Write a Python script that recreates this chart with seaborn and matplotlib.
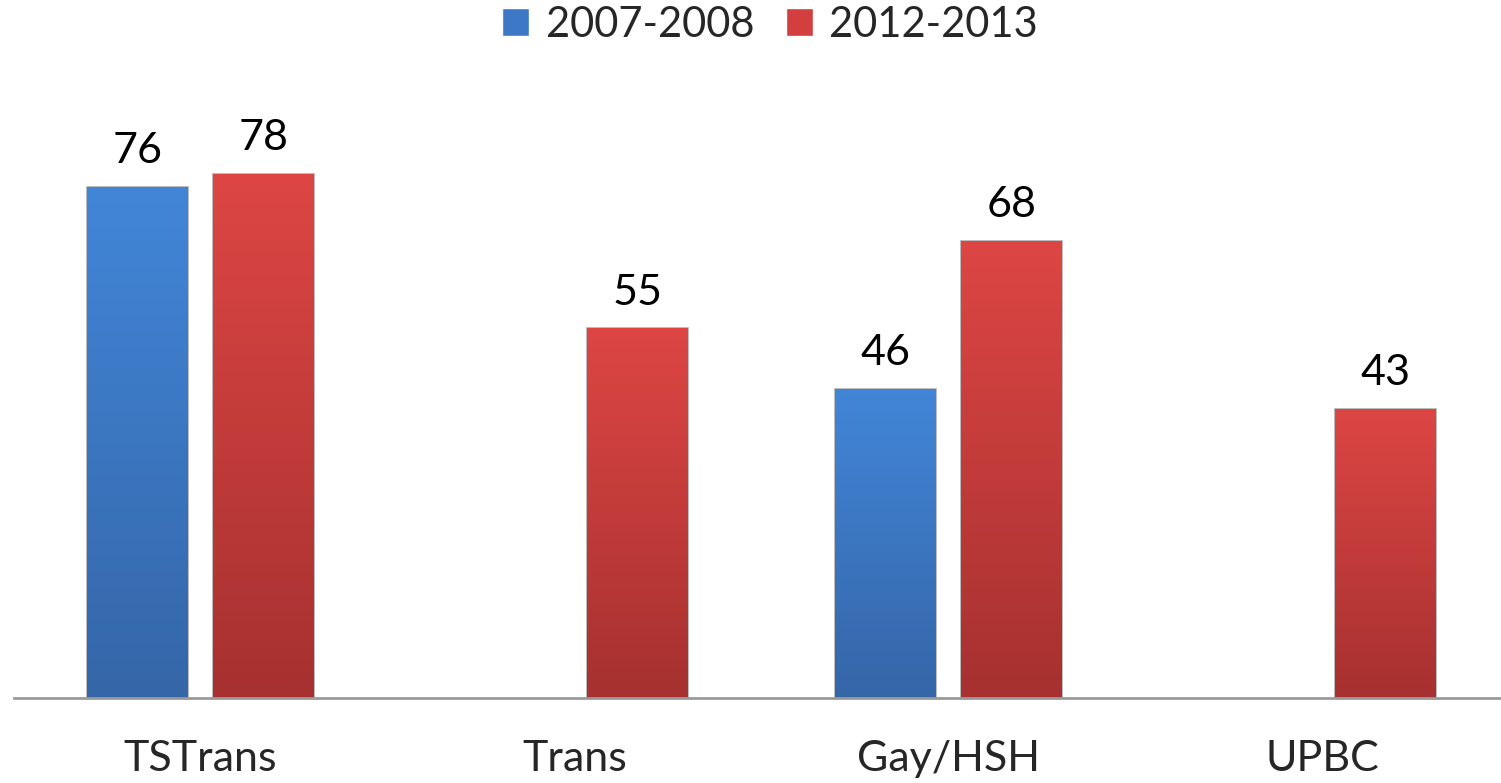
import pandas as pd
import numpy as np
import seaborn as sns
import matplotlib.pyplot as plt
from matplotlib.colors import LinearSegmentedColormap

categories = ['TSTrans', 'Trans', 'Gay/HSH', 'UPBC']
periods = ['2007-2008', '2012-2013']
vals_2007 = [76, np.nan, 46, np.nan]
vals_2012 = [78, 55, 68, 43]

df = pd.DataFrame({
    'cat': categories * 2,
    'period': [periods[0]] * 4 + [periods[1]] * 4,
    'value': vals_2007 + vals_2012,
})

sns.set_style('white')
plt.rcParams['font.family'] = ['Lato', 'DejaVu Sans']

fig = plt.figure(figsize=(15.01, 7.83), dpi=100)
ax = fig.add_axes([13.5 / 1501, 1 - 698 / 783, 1496 / 1501, 605 / 783])

pal = {'2007-2008': '#3c78c6', '2012-2013': '#d33f3e'}
sns.barplot(data=df, x='cat', y='value', hue='period', order=categories,
            hue_order=periods, palette=pal, width=0.672, gap=0.2,
            saturation=1, ax=ax, legend=True)

# gradient fill on each bar
grads = {'2007-2008': ['#4286d8', '#3566a8'], '2012-2013': ['#dd4644', '#a63130']}
for cont, per in zip(ax.containers, periods):
    cmap = LinearSegmentedColormap.from_list(per, grads[per][::-1])
    for bar in cont:
        h = bar.get_height()
        if not np.isfinite(h) or h == 0:
            continue
        x0, w = bar.get_x(), bar.get_width()
        bar.set_edgecolor('#00000050')
        bar.set_linewidth(1.2)
        grad = np.linspace(0, 1, 256).reshape(-1, 1)
        im = ax.imshow(grad, extent=[x0, x0 + w, 0, h], origin='lower',
                       cmap=cmap, aspect='auto', zorder=bar.get_zorder() + 0.1,
                       interpolation='bilinear')
        im.set_clip_path(bar)
    ax.bar_label(cont, labels=[f'{v:.0f}' if np.isfinite(v) else '' for v in cont.datavalues],
                 padding=12, fontsize=31, color='black')

ax.set_ylim(0, 90)
ax.set_xlim(-0.5, 3.5)
ax.set_aspect('auto')

ax.set_xlabel('')
ax.set_ylabel('')
ax.set_yticks([])
ax.tick_params(axis='x', length=0, labelsize=31, pad=30)
for s in ['top', 'left', 'right']:
    ax.spines[s].set_visible(False)
ax.spines['bottom'].set_color('#9a9a9a')
ax.spines['bottom'].set_linewidth(2)
ax.spines['bottom'].set_zorder(5)

handles, labels = ax.get_legend_handles_labels()
ax.get_legend().remove()
fig.legend(handles, labels, loc='center', bbox_to_anchor=(770 / 1501, 1 - 25 / 783),
           ncol=2, frameon=False, fontsize=30, handlelength=0.65, handleheight=0.65,
           handletextpad=0.4, columnspacing=0.75)

fig.savefig('out.png', dpi=100)
